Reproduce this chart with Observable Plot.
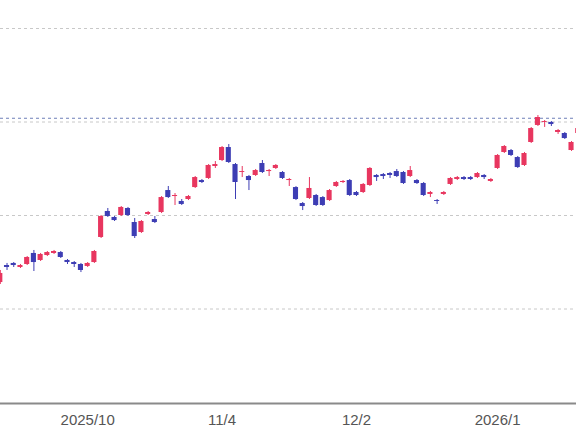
<!DOCTYPE html>
<html><head><meta charset="utf-8">
<script src="https://cdn.jsdelivr.net/npm/d3@7"></script>
<script src="https://cdn.jsdelivr.net/npm/@observablehq/plot@0.6"></script>
<style>body{margin:0;background:#fff;overflow:hidden}</style>
</head><body><div id="chart"></div>
<script>
const opens = [128.3,146.5,148.7,144.4,147.6,159.4,151.9,157.2,159.4,160.4,
151.9,149.7,147.6,145.5,149.7,176.5,204.3,197.9,200.0,207.5,
192.5,181.8,201.1,195.7,203.2,226.7,220.3,215.0,217.1,229.9,
237.4,239.6,252.4,258.8,272.7,254.5,246.0,241.7,242.8,255.6,
247.0,250.3,246.0,237.4,229.9,212.8,218.2,221.4,219.2,216.0,
231.0,235.3,237.4,224.6,224.6,232.1,242.8,243.8,244.9,247.0,
246.0,241.7,237.4,234.2,222.5,216.0,222.5,233.2,238.5,240.6,
240.6,240.6,242.8,236.4,250.3,267.4,269.5,262.0,253.5,278.1,
296.3,299.5,299.5,288.8,287.7,269.5,287.7];
const closes = [138.0,144.4,146.5,146.5,155.1,149.7,158.3,160.4,161.5,155.1,
149.7,147.6,141.2,148.7,161.5,198.9,198.9,194.6,208.6,200.0,
177.5,193.6,203.2,192.5,219.2,219.2,221.4,211.8,220.3,240.6,
235.3,253.5,254.5,272.7,256.7,235.3,247.0,237.4,248.1,246.0,
248.1,253.5,239.6,238.5,217.1,209.6,228.9,210.7,210.7,226.7,
235.3,236.4,221.4,221.4,233.2,250.3,240.6,241.7,242.8,241.7,
234.2,248.1,234.2,221.4,224.6,215.0,224.6,239.6,240.6,238.5,
238.5,244.9,240.6,238.5,264.2,273.8,264.2,251.3,266.3,293.0,
304.8,300.5,297.3,290.9,282.3,278.1,293.0];
const highs = [141.2,148.7,149.7,147.6,156.1,162.6,159.4,161.5,162.6,161.5,
152.9,150.8,148.7,149.7,162.6,200.0,207.5,198.9,209.6,208.6,
196.8,194.6,204.3,198.9,220.3,231.0,223.5,217.1,221.4,241.7,
238.5,254.5,257.7,273.8,275.9,255.6,252.4,242.8,249.2,258.8,
249.2,254.5,247.0,239.6,230.9,213.9,240.6,222.5,220.3,227.8,
236.4,237.4,238.5,225.7,234.2,251.3,243.8,244.9,246.0,249.2,
247.0,252.4,238.5,235.3,225.7,217.1,225.7,240.6,241.7,241.7,
241.7,246.0,243.8,239.6,265.2,274.8,270.6,263.1,267.4,294.1,
306.9,301.6,300.5,292.0,288.8,279.1,294.1];
const lows = [126.2,141.2,144.4,143.3,146.5,140.1,150.8,156.1,158.3,154.0,
147.6,144.4,139.0,144.4,148.7,175.4,197.9,193.6,198.9,198.9,
175.4,180.8,200.0,191.4,202.1,218.2,210.7,210.7,216.0,228.9,
234.2,238.5,250.3,257.7,255.6,217.1,240.6,226.7,241.7,244.9,
241.7,249.2,238.5,231.0,216.0,205.3,217.1,209.6,209.6,215.0,
230.0,234.2,220.3,220.3,223.5,231.0,236.4,238.5,239.6,240.6,
233.2,240.6,233.2,220.3,219.2,211.8,221.4,232.1,237.4,237.4,
237.4,239.6,238.5,235.3,249.2,266.3,263.1,250.3,252.4,277.0,
295.2,294.2,295.2,286.7,281.3,268.5,286.7];
const tickIndex = [13, 33, 53, 74];
const tickLabels = ["2025/10", "11/4", "12/2", "2026/1"];
const gridLevels = [100, 200, 300, 400];
const markerLevel = [304];

const candles = opens.map((o, i) => ({i, open: o, close: closes[i], high: highs[i], low: lows[i], up: closes[i] >= o}));
const UP = "#e8365f", DOWN = "#3d3db4";
const upC = candles.filter(d => d.up), downC = candles.filter(d => !d.up);

const chart = Plot.plot({
  width: 576, height: 430,
  marginTop: 28, marginBottom: 28, marginLeft: 0, marginRight: 0,
  style: {fontFamily: "'Liberation Sans', Arial, sans-serif", background: "#fff", overflow: "hidden"},
  x: {domain: [0.03, 85.74], axis: null},
  y: {domain: [0, 400], axis: null},
  marks: [
    Plot.ruleY(gridLevels, {stroke: "#c8c8c8", strokeDasharray: "3,3"}),
    Plot.ruleY(markerLevel, {stroke: "#6d7fb8", strokeDasharray: "3,3"}),
    Plot.ruleX(upC, {x: "i", y1: "low", y2: "high", stroke: UP}),
    Plot.ruleX(downC, {x: "i", y1: "low", y2: "high", stroke: DOWN}),
    Plot.rect(upC, {x1: d => d.i - 0.38, x2: d => d.i + 0.38, y1: "open", y2: "close", fill: UP}),
    Plot.rect(downC, {x1: d => d.i - 0.38, x2: d => d.i + 0.38, y1: "open", y2: "close", fill: DOWN}),
    Plot.ruleY([0], {stroke: "#8a8a8a", strokeWidth: 2, dy: 1}),
    Plot.axisX(tickIndex, {tickSize: 0, tickPadding: 12, fontSize: 15, fill: "#555", label: null,
      tickFormat: d => tickLabels[tickIndex.indexOf(d)]})
  ]
});
document.getElementById("chart").append(chart);
</script>
</body></html>
